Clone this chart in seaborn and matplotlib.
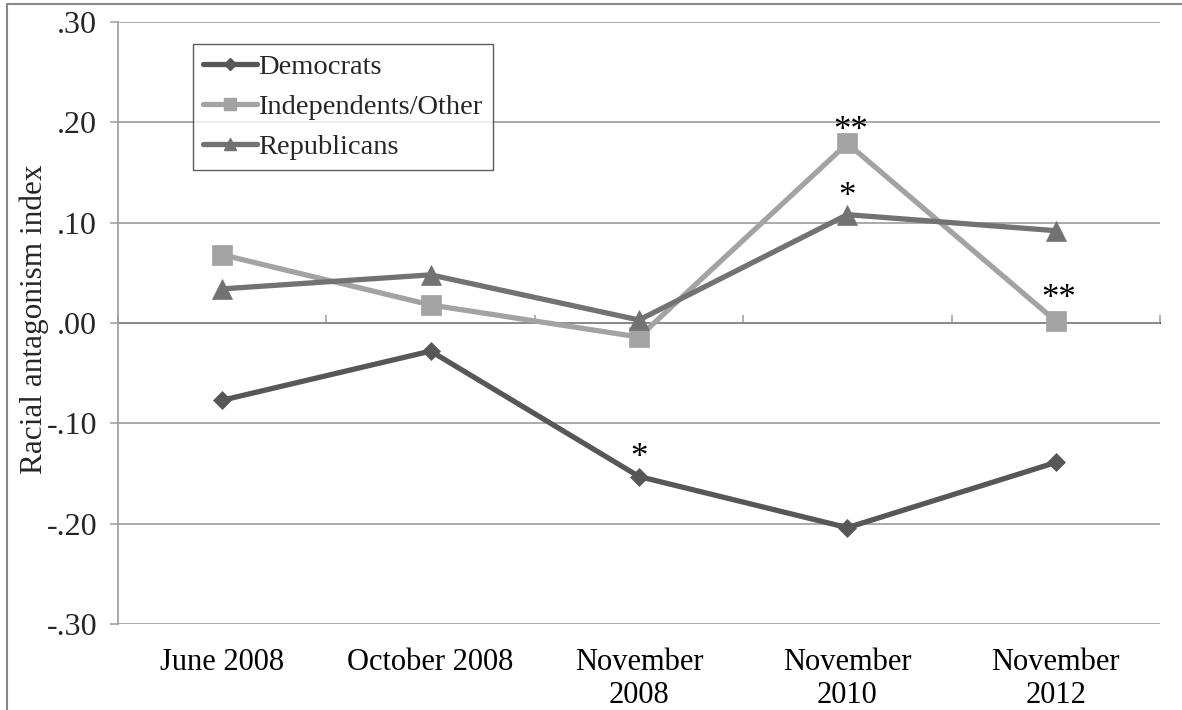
import matplotlib
matplotlib.use("Agg")
import matplotlib.pyplot as plt
import seaborn as sns
import pandas as pd
from matplotlib.lines import Line2D

# ---- data ----
categories = ["June 2008", "October 2008", "November\n2008", "November\n2010", "November\n2012"]
democrats = [-0.077, -0.028, -0.153, -0.204, -0.139]
independents = [0.068, 0.018, -0.014, 0.179, 0.002]
republicans = [0.034, 0.048, 0.003, 0.108, 0.092]
series_names = ["Democrats", "Independents/Other", "Republicans"]
y_ticks = [-0.30, -0.20, -0.10, 0.00, 0.10, 0.20, 0.30]
y_tick_labels = ["-.30", "-.20", "-.10", ".00", ".10", ".20", ".30"]
# significance marks: (series, category index, text)
annot_series = ["Independents/Other", "Republicans", "Democrats", "Independents/Other"]
annot_cat = [3, 3, 2, 4]
annot_text = ["**", "*", "*", "**"]

values = {"Democrats": democrats, "Independents/Other": independents, "Republicans": republicans}
rows = []
for name in series_names:
    for i, c in enumerate(categories):
        rows.append({"category": c, "pos": i, "value": values[name][i], "party": name})
df = pd.DataFrame(rows)

sns.set_theme(style="white")
plt.rcParams["font.family"] = ["Liberation Serif", "DejaVu Serif"]

colors = {"Democrats": "#575757", "Independents/Other": "#a3a3a3", "Republicans": "#727272"}
markers = {"Democrats": "D", "Independents/Other": "s", "Republicans": "^"}
msizes = {"Democrats": 9.5, "Independents/Other": 14, "Republicans": 14}

fig = plt.figure(figsize=(11.82, 7.10), dpi=100)
ax = fig.add_axes([118 / 1182, 1 - 624 / 710, 1042 / 1182, 602 / 710])

grid_c = "#9c9c9c"
for name in series_names:
    sub = df[df["party"] == name]
    sns.lineplot(data=sub, x="pos", y="value", ax=ax, color=colors[name],
                 marker=markers[name], markersize=msizes[name], linewidth=3.8,
                 markeredgecolor=colors[name], markeredgewidth=0.5, legend=False,
                 zorder=3)

ax.set_xlim(-0.5, len(categories) - 0.5)
ax.set_ylim(-0.30, 0.30)
ax.set_yticks(y_ticks)
ax.set_yticklabels(y_tick_labels, fontsize=23)
ax.set_xticks(range(len(categories)))
ax.set_xticklabels(categories, fontsize=22, linespacing=1.2)
ax.tick_params(axis="x", length=0, pad=17, colors="black")
ax.tick_params(axis="y", length=6, width=1.1, color=grid_c, pad=9, direction="out", left=True)
ax.grid(axis="y", color=grid_c, linewidth=1.2)
ax.grid(axis="x", visible=False)
ax.set_xlabel("")
ax.set_ylabel("Racial antagonism index", fontsize=22.5)
ax.yaxis.set_label_coords(-0.066, 0.507)
for s in ["top", "right", "bottom"]:
    ax.spines[s].set_visible(False)
ax.spines["left"].set_color(grid_c)
ax.spines["left"].set_linewidth(1.2)

# zero axis with boundary tick marks
sec = ax.secondary_xaxis(0.5)
sec.set_xticks([i - 0.5 for i in range(len(categories) + 1)])
sec.set_xticklabels([])
sec.tick_params(axis="x", length=6, width=1.1, color=grid_c, direction="out")
sec.spines["bottom"].set_color(grid_c)
sec.spines["bottom"].set_linewidth(1.2)

# significance marks
annot_offsets = [2.5, 6, 6.5, 9.5]
for s, ci, t, off in zip(annot_series, annot_cat, annot_text, annot_offsets):
    ax.annotate(t, xy=(ci, values[s][ci]), xytext=(2 if t == "**" else 0, off),
                textcoords="offset points", ha="center", va="baseline",
                fontsize=25, color="black", zorder=5)

# legend
handles = [Line2D([], [], color=colors[n], marker=markers[n], linewidth=3.8,
                  markersize=msizes[n] * 0.6, markeredgecolor=colors[n]) for n in series_names]
leg = ax.legend(handles, series_names, loc="upper left", bbox_to_anchor=(0.072, 0.9635),
                borderaxespad=0, fontsize=20.5, frameon=True, fancybox=False,
                handlelength=1.9, handletextpad=0.05, labelspacing=0.5,
                borderpad=0.35, edgecolor="#333333")
leg.get_frame().set_linewidth(1.0)

# outer figure frame (left and top edges)
fig.add_artist(Line2D([7 / 1182, 7 / 1182], [0, 1 - 4 / 710], transform=fig.transFigure,
                      color="#8a8a8a", linewidth=1.5))
fig.add_artist(Line2D([7 / 1182, 1], [1 - 4 / 710, 1 - 4 / 710], transform=fig.transFigure,
                      color="#8a8a8a", linewidth=1.5))

fig.savefig("out.png", dpi=100, facecolor="white")
